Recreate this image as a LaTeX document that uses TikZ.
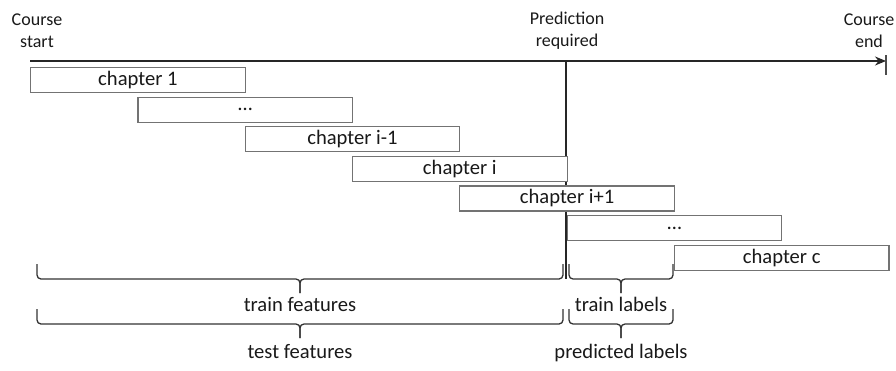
\documentclass[tikz,border=0pt]{standalone}
\usepackage{fontspec}
\setmainfont{Carlito}
\usetikzlibrary{arrows.meta, positioning}

\tikzset{
  chapbox/.style={draw=black!55, fill=white, line width=1.2pt, anchor=north west, inner sep=0pt,
    minimum width=214.6pt, minimum height=25pt, text=black!90,
    font=\fontsize{20.6}{24}\selectfont},
  toplabel/.style={align=center, text=black!90, font=\fontsize{18}{22}\selectfont},
  spanlabel/.style={text=black!90, font=\fontsize{20.6}{24}\selectfont},
  bracket/.style={draw=black!80, line width=1.3pt, rounded corners=4pt},
}

% brace under a span: left x, right x, top y, name
\newcommand\timebrace[4]{%
  \coordinate (#4l) at (#1,#3);
  \coordinate (#4r) at (#2,#3);
  \coordinate (#4m) at ({(#1+#2)/2},#3+15);
  \coordinate (#4t) at ({(#1+#2)/2},#3+29);
  \draw[bracket] (#4l) |- (#4m) -- (#4t);
  \draw[bracket] (#4r) |- (#4m) -- (#4t);
}

\begin{document}
\begin{tikzpicture}[x=1pt, y=-1pt]
  \useasboundingbox (0,0) rectangle (896,370);

  % time axis
  \coordinate (tstart) at (30,61);
  \coordinate (tend) at (886,61);
  \draw[line width=1.5pt, draw=black!85, -{Stealth[length=11pt, width=9pt]}] (tstart) -- (tend);
  \draw[line width=1.2pt, draw=black!70] (886,55) -- (886,75);

  \node[toplabel] (start) at (37,31) {Course\\start};
  \node[toplabel] (pred) at (567,31) {Prediction\\required};
  \node[toplabel] (end) at (869,31) {Course\\end};

  % prediction moment
  \coordinate (cut) at (566,61);
  \coordinate (cutbot) at (566,279);
  \draw[line width=1.4pt, draw=black!85] (cut) -- (cutbot);

  % chapters
  \foreach \lab [count=\k from 0] in {chapter 1, \ldots, chapter i-1, chapter i, chapter i+1, \ldots, chapter c}
    \node[chapbox] (ch\k) at (30+107.3*\k, 67+29.6*\k) {\lab};

  % spans
  \timebrace{37}{563}{264}{tf}
  \timebrace{569}{673}{264}{tl}
  \timebrace{37}{563}{309}{sf}
  \timebrace{569}{673}{309}{pl}

  \node[spanlabel, below=1pt of tft] (trainfeat) {train features};
  \node[spanlabel, below=1pt of tlt] (trainlab) {train labels};
  \node[spanlabel, below=3pt of sft] (testfeat) {test features};
  \node[spanlabel, below=3pt of plt] (predlab) {predicted labels};
\end{tikzpicture}
\end{document}
